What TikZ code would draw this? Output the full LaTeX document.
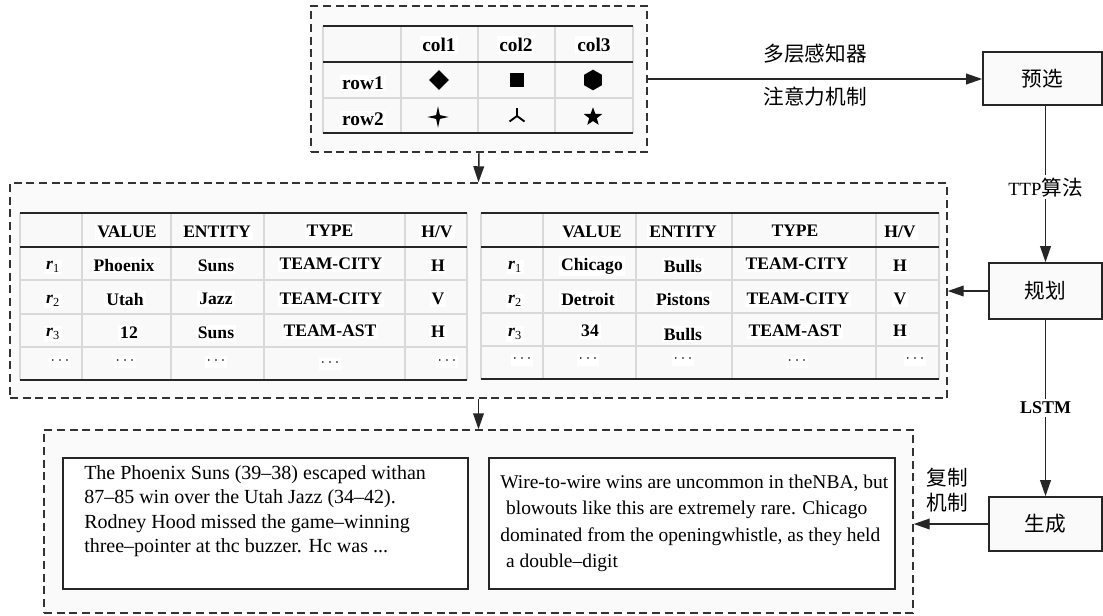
\documentclass[tikz,border=0pt]{standalone}
\usepackage{fontspec}
\setmainfont{Liberation Serif}
\newfontfamily\cjk{Noto Sans CJK SC}
\usetikzlibrary{arrows.meta,shapes.geometric,fit}
\tikzset{
  dbox/.style={draw=black!80, line width=1.1pt, dash pattern=on 6pt off 3.5pt, fill=gray!4, inner sep=0pt},
  tbox/.style={draw=black!85, line width=1.3pt, fill=white, inner sep=0pt},
  procbox/.style={draw=black!85, line width=1.2pt, fill=gray!4, inner sep=0pt},
  thickrule/.style={line width=1.4pt, black!85},
  thinrule/.style={line width=1.1pt, gray!30},
  cell/.style={font=\fontsize{13.2}{15}\selectfont\bfseries, fill=white, inner sep=1.5pt},
  tcell/.style={font=\fontsize{14.5}{16}\selectfont\bfseries, fill=white, inner sep=1.5pt},
  cn/.style={font=\cjk\fontsize{15.5}{19}\selectfont},
  para/.style={align=left, inner sep=0pt},
  arr/.style={line width=1.1pt, draw=black!85, -{Triangle[length=12pt,width=8pt]}},
  sym/.style={fill=black, draw=none, inner sep=0pt},
  lbl/.style={fill=white, inner sep=2pt}
}
\newcommand{\rlab}[1]{\textbf{\textit{r}}\textsubscript{\normalfont #1}}
\newcommand{\dts}{\raisebox{0.2ex}{$\cdots$}}
\begin{document}
\begin{tikzpicture}[x=0.75pt,y=-0.75pt]
\useasboundingbox[fill=white] (0,0) rectangle (1103,615);

% ---------------- dashed containers
\node[dbox, fit={(311,6) (647,152)}] (topbox) {};
\node[dbox, fit={(10,183) (947,398)}] (midbox) {};
\node[dbox, fit={(44,430) (913,613)}] (botbox) {};

% ---------------- top table
\fill[gray!5] (323,26) rectangle (633,133);
\foreach \x in {323,401,478,555,633} \draw[thinrule] (\x,26) -- (\x,133);
\draw[thinrule] (323,98) -- (633,98);
\draw[thickrule] (323,26) -- (633,26);
\draw[thickrule] (323,62) -- (633,62);
\draw[thickrule] (323,133) -- (633,133);
\node[tcell] (c1) at (439,45) {col1};
\node[tcell] (c2) at (516,45) {col2};
\node[tcell] (c3) at (594,45) {col3};
\node[tcell] (row1) at (363,83) {row1};
\node[tcell] (row2) at (363,119) {row2};
\node[sym, diamond, minimum width=15pt, minimum height=15pt] (s1) at (439,80) {};
\node[sym, rectangle, minimum size=10pt] (s2) at (517,80) {};
\node[sym, regular polygon, regular polygon sides=6, minimum size=15.5pt, rotate=90] (s3) at (593,80) {};
\node[sym, star, star points=4, star point ratio=4, minimum size=16pt] (s4) at (438,117) {};
\coordinate (tri) at (517,116);
\draw[line width=1.4pt] (tri) -- ++(0,-8) (tri) -- ++(-7.5,5.5) (tri) -- ++(7.5,5.5);
\node[sym, star, star points=5, star point ratio=2.4, minimum size=14.5pt] (s6) at (593,117) {};

% ---------------- left middle table
\fill[gray!5] (20,213) rectangle (467,380);
\foreach \x in {20,82,171,264,405,467} \draw[thinrule] (\x,213) -- (\x,380);
\foreach \y in {280,314,347} \draw[thinrule] (20,\y) -- (467,\y);
\draw[thickrule] (20,213) -- (467,213);
\draw[thickrule] (20,247) -- (467,247);
\draw[thickrule] (20,380) -- (467,380);
\foreach \t/\x/\y [count=\i] in {
  VALUE/127/232, ENTITY/217/232, TYPE/330/231, {H/V}/437/232,
  {\rlab1}/53/267, Phoenix/124/265, Suns/216/266, TEAM-CITY/331/264, H/438/266,
  {\rlab2}/53/301, Utah/125/299, Jazz/216/299, TEAM-CITY/331/299, V/438/299,
  {\rlab3}/53/334, 12/129/333, Suns/216/333, TEAM-AST/330/331, H/438/332,
  {\dts}/60/362, {\dts}/125/362, {\dts}/216/362, {\dts}/330/364, {\dts}/447/362}
  \node[cell] (L\i) at (\x,\y) {\t};

% ---------------- right middle table
\fill[gray!5] (481,213) rectangle (939,379);
\foreach \x in {481,543,636,732,876,939} \draw[thinrule] (\x,213) -- (\x,379);
\foreach \y in {280,313,346} \draw[thinrule] (481,\y) -- (939,\y);
\draw[thickrule] (481,213) -- (939,213);
\draw[thickrule] (481,247) -- (939,247);
\draw[thickrule] (481,379) -- (939,379);
\foreach \t/\x/\y [count=\i] in {
  VALUE/592/232, ENTITY/683/232, TYPE/795/231, {H/V}/900/232,
  {\rlab1}/515/267, Chicago/592/266, Bulls/683/266, TEAM-CITY/797/264, H/900/266,
  {\rlab2}/515/301, Detroit/588/299, Pistons/683/299, TEAM-CITY/798/299, V/900/299,
  {\rlab3}/515/334, 34/590/331, Bulls/683/334, TEAM-AST/795/331, H/900/331,
  {\dts}/522/360, {\dts}/588/360, {\dts}/683/360, {\dts}/797/362, {\dts}/915/360}
  \node[cell] (R\i) at (\x,\y) {\t};

% ---------------- text boxes
\node[tbox, fit={(63,458) (468,589)}] (ltext) {};
\node[tbox, fit={(489,458) (895,589)}] (rtext) {};
\node[para, anchor=north west, font=\fontsize{15}{18.4}\selectfont] (lpar) at (84,465)
  {The Phoenix Suns (39–38) escaped withan\\
   87–85 win over the Utah Jazz (34–42).\\
   Rodney Hood missed the game–winning\\
   three–pointer at thc buzzer. Hc was ...};
\node[para, anchor=north west, font=\fontsize{14.6}{19.6}\selectfont] (rpar) at (500,475)
  {Wire-to-wire wins are uncommon in theNBA, but\\
   \hspace*{0.3em}blowouts like this are extremely rare. Chicago\\
   dominated from the openingwhistle, as they held\\
   \hspace*{0.3em}a double–digit};

% ---------------- process boxes
\node[procbox, fit={(983,52) (1102,105)}, label={[cn]center:预选}] (pre) {};
\node[procbox, fit={(989,263) (1102,319)}, label={[cn]center:规划}] (plan) {};
\node[procbox, fit={(989,497) (1102,551)}, label={[cn]center:生成}] (gen) {};

% ---------------- connectors
\draw[arr] (topbox.east) -- (topbox.east -| pre.west);
\node[cn] (mlp) at (815,54) {多层感知器};
\node[cn] (att) at (815,97) {注意力机制};
\draw[arr] (topbox.south) -- (midbox.north);
\draw[arr] (midbox.south) -- (botbox.north);
\draw[arr] (pre.south -| plan.north) -- node[pos=0.52, lbl, font=\fontsize{14}{15}\selectfont] (ttp) {TTP{\cjk\fontsize{15.5}{15}\selectfont 算法}} (plan.north);
\draw[arr] (plan.south) -- node[pos=0.5, lbl, font=\fontsize{13.5}{15}\selectfont\bfseries] (lstm) {LSTM} (gen.north);
\draw[arr] (plan.west) -- (plan.west -| midbox.east);
\draw[arr] (gen.west) -- (gen.west -| botbox.east);
\node[cn, align=center] (copy) at (947,490) {复制\\机制};
\end{tikzpicture}
\end{document}
